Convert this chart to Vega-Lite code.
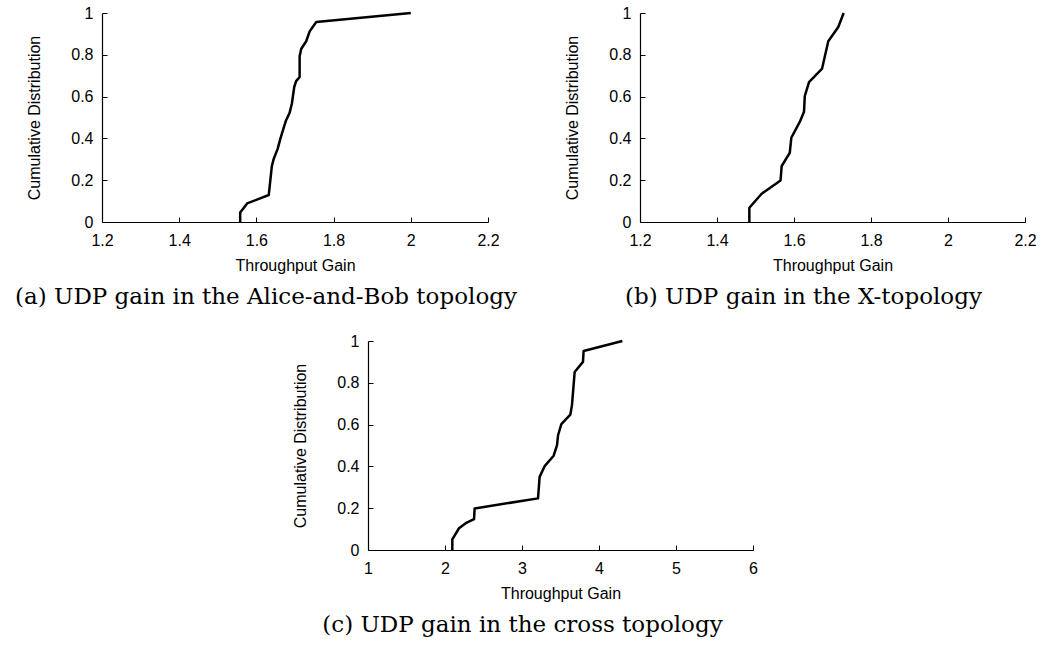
{
  "$schema": "https://vega.github.io/schema/vega-lite/v6.json",
  "background": "white",
  "padding": {"left": 15, "top": 5, "right": 5, "bottom": 5},
  "config": {
    "view": {"stroke": null},
    "axis": {"grid": false, "domainColor": "black", "domainWidth": 1.2, "tickColor": "black", "tickSize": -5, "tickWidth": 1, "labelFont": "Liberation Sans", "labelFontSize": 16, "labelColor": "black", "titleFont": "Liberation Sans", "titleFontSize": 16, "titleFontWeight": "normal", "titleColor": "black", "labelFlush": false, "labelOverlap": false},
    "axisX": {"titlePadding": 9, "labelPadding": 15},
    "axisY": {"titlePadding": 28, "labelPadding": 14},
    "title": {"font": "DejaVu Serif", "fontSize": 23, "fontWeight": "normal", "color": "black", "orient": "bottom", "anchor": "middle", "frame": "group", "offset": 13}
  },
  "datasets": {
    "a": [
      {"i": 0, "x": 1.558, "y": 0}, {"i": 1, "x": 1.558, "y": 0.045}, {"i": 2, "x": 1.576, "y": 0.089}, {"i": 3, "x": 1.632, "y": 0.129},
      {"i": 4, "x": 1.640, "y": 0.267}, {"i": 5, "x": 1.645, "y": 0.303}, {"i": 6, "x": 1.655, "y": 0.35}, {"i": 7, "x": 1.662, "y": 0.398},
      {"i": 8, "x": 1.672, "y": 0.459}, {"i": 9, "x": 1.677, "y": 0.487}, {"i": 10, "x": 1.686, "y": 0.522}, {"i": 11, "x": 1.692, "y": 0.567},
      {"i": 12, "x": 1.698, "y": 0.646}, {"i": 13, "x": 1.703, "y": 0.674}, {"i": 14, "x": 1.712, "y": 0.694}, {"i": 15, "x": 1.712, "y": 0.793},
      {"i": 16, "x": 1.716, "y": 0.828}, {"i": 17, "x": 1.729, "y": 0.865}, {"i": 18, "x": 1.738, "y": 0.912}, {"i": 19, "x": 1.755, "y": 0.957},
      {"i": 20, "x": 2.0, "y": 1.0}
    ],
    "b": [
      {"i": 0, "x": 1.484, "y": 0}, {"i": 1, "x": 1.484, "y": 0.068}, {"i": 2, "x": 1.516, "y": 0.135}, {"i": 3, "x": 1.565, "y": 0.199},
      {"i": 4, "x": 1.568, "y": 0.268}, {"i": 5, "x": 1.589, "y": 0.331}, {"i": 6, "x": 1.593, "y": 0.403}, {"i": 7, "x": 1.615, "y": 0.479},
      {"i": 8, "x": 1.626, "y": 0.527}, {"i": 9, "x": 1.628, "y": 0.602}, {"i": 10, "x": 1.639, "y": 0.669}, {"i": 11, "x": 1.673, "y": 0.734},
      {"i": 12, "x": 1.689, "y": 0.865}, {"i": 13, "x": 1.715, "y": 0.933}, {"i": 14, "x": 1.729, "y": 1.0}
    ],
    "c": [
      {"i": 0, "x": 2.095, "y": 0}, {"i": 1, "x": 2.095, "y": 0.051}, {"i": 2, "x": 2.182, "y": 0.104}, {"i": 3, "x": 2.277, "y": 0.13},
      {"i": 4, "x": 2.377, "y": 0.148}, {"i": 5, "x": 2.385, "y": 0.199}, {"i": 6, "x": 3.208, "y": 0.247}, {"i": 7, "x": 3.229, "y": 0.35},
      {"i": 8, "x": 3.294, "y": 0.401}, {"i": 9, "x": 3.411, "y": 0.451}, {"i": 10, "x": 3.455, "y": 0.502}, {"i": 11, "x": 3.468, "y": 0.549},
      {"i": 12, "x": 3.511, "y": 0.602}, {"i": 13, "x": 3.628, "y": 0.648}, {"i": 14, "x": 3.649, "y": 0.693}, {"i": 15, "x": 3.684, "y": 0.852},
      {"i": 16, "x": 3.792, "y": 0.9}, {"i": 17, "x": 3.8, "y": 0.952}, {"i": 18, "x": 4.303, "y": 1.0}
    ]
  },
  "spacing": 24,
  "vconcat": [
    {
      "spacing": 47,
      "hconcat": [
        {
          "width": 386, "height": 209,
          "data": {"name": "a"},
          "mark": {"type": "line", "color": "black", "strokeWidth": 2.5, "strokeJoin": "round"},
          "encoding": {
            "x": {"field": "x", "type": "quantitative", "scale": {"domain": [1.2, 2.2], "nice": false, "zero": false}, "axis": {"values": [1.2, 1.4, 1.6, 1.8, 2, 2.2], "format": "~g", "title": "Throughput Gain"}},
            "y": {"field": "y", "type": "quantitative", "scale": {"domain": [0, 1], "nice": false}, "axis": {"values": [0, 0.2, 0.4, 0.6, 0.8, 1], "format": "~g", "title": "Cumulative Distribution"}},
            "order": {"field": "i"}
          },
          "title": {"text": "(a) UDP gain in the Alice-and-Bob topology", "dx": -29}
        },
        {
          "width": 385, "height": 209,
          "data": {"name": "b"},
          "mark": {"type": "line", "color": "black", "strokeWidth": 2.5, "strokeJoin": "round"},
          "encoding": {
            "x": {"field": "x", "type": "quantitative", "scale": {"domain": [1.2, 2.2], "nice": false, "zero": false}, "axis": {"values": [1.2, 1.4, 1.6, 1.8, 2, 2.2], "format": "~g", "title": "Throughput Gain"}},
            "y": {"field": "y", "type": "quantitative", "scale": {"domain": [0, 1], "nice": false}, "axis": {"values": [0, 0.2, 0.4, 0.6, 0.8, 1], "format": "~g", "title": "Cumulative Distribution"}},
            "order": {"field": "i"}
          },
          "title": {"text": "(b) UDP gain in the X-topology", "dx": -29}
        }
      ]
    },
    {
      "spacing": 75,
      "hconcat": [
        {
          "width": 114.3, "height": 209,
          "data": {"values": []},
          "mark": "point",
          "encoding": {}
        },
        {
          "width": 385, "height": 209,
          "data": {"name": "c"},
          "mark": {"type": "line", "color": "black", "strokeWidth": 2.5, "strokeJoin": "round"},
          "encoding": {
            "x": {"field": "x", "type": "quantitative", "scale": {"domain": [1, 6], "nice": false, "zero": false}, "axis": {"values": [1, 2, 3, 4, 5, 6], "format": "~g", "title": "Throughput Gain"}},
            "y": {"field": "y", "type": "quantitative", "scale": {"domain": [0, 1], "nice": false}, "axis": {"values": [0, 0.2, 0.4, 0.6, 0.8, 1], "format": "~g", "title": "Cumulative Distribution"}},
            "order": {"field": "i"}
          },
          "title": {"text": "(c) UDP gain in the cross topology", "dx": -38}
        }
      ]
    }
  ]
}
